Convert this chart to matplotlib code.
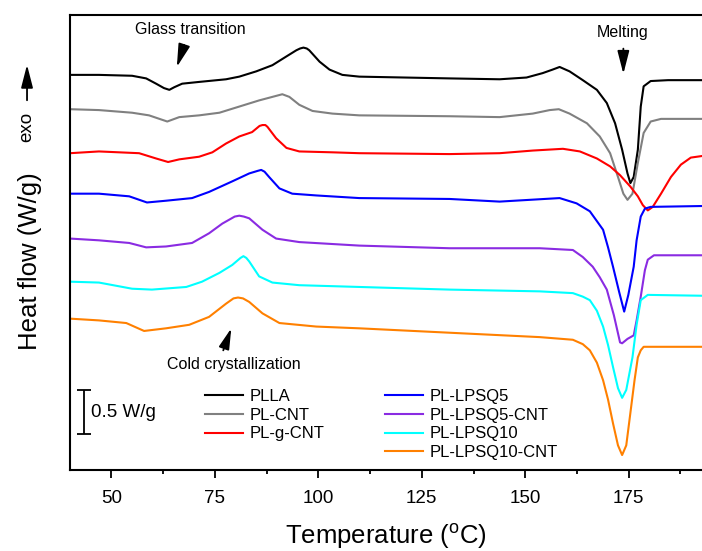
import matplotlib.pyplot as plt
from matplotlib.lines import Line2D
from matplotlib.ticker import MultipleLocator

plt.rcParams['font.family'] = ['Liberation Sans', 'DejaVu Sans']
plt.rcParams['mathtext.fontset'] = 'custom'
plt.rcParams['mathtext.rm'] = 'Liberation Sans'

# %%
# DSC traces: temperature (C) and shifted heat flow (W/g)
labels = ['PLLA', 'PL-CNT', 'PL-g-CNT', 'PL-LPSQ5', 'PL-LPSQ5-CNT', 'PL-LPSQ10', 'PL-LPSQ10-CNT']
colors = ['#000000', '#808080', '#ff0000', '#0000ff', '#8a2be2', '#00ffff', '#ff8000']

t_plla = [40, 47.0, 55.0, 58.4, 60.8, 62.7, 64.0, 65.2, 67.1, 71.2, 77.7, 80.9, 85.0, 88.9, 92.3,
          94.7, 95.6, 96.4, 97.2, 97.8, 100.3, 102.7, 105.8, 109.9, 131.7, 143.8, 150.3, 154.2,
          156.6, 158.3, 160.7, 163.9, 167.3, 169.7, 171.7, 173.4, 174.7, 175.4, 176.2, 177.2,
          177.9, 178.6, 180.3, 184.5, 193]
hf_plla = [4.49, 4.49, 4.48, 4.45, 4.39, 4.34, 4.32, 4.35, 4.39, 4.41, 4.44, 4.47, 4.53, 4.60, 4.70,
           4.77, 4.79, 4.80, 4.79, 4.77, 4.64, 4.55, 4.49, 4.47, 4.45, 4.44, 4.46, 4.51,
           4.55, 4.58, 4.53, 4.43, 4.32, 4.17, 3.94, 3.64, 3.37, 3.26, 3.33, 3.64,
           4.13, 4.36, 4.42, 4.43, 4.43]

t_cnt = [40, 47.0, 55.0, 59.1, 63.5, 66.4, 71.2, 76.1, 80.9, 85.7, 88.9, 91.3, 93.0, 95.4, 98.6,
         103.4, 109.9, 131.7, 143.8, 151.8, 155.9, 158.1, 160.7, 164.9, 168.0, 170.5, 172.4, 173.7,
         174.7, 175.9, 177.2, 178.6, 180.3, 182.8, 193]
hf_cnt = [4.10, 4.09, 4.06, 4.03, 3.96, 4.01, 4.03, 4.06, 4.13, 4.20, 4.24, 4.27, 4.24, 4.15, 4.08,
          4.05, 4.03, 4.02, 4.01, 4.05, 4.09, 4.10, 4.05, 3.94, 3.79, 3.60, 3.33, 3.14,
          3.07, 3.14, 3.49, 3.83, 3.96, 3.99, 3.99]

t_gcnt = [40, 47.0, 56.7, 60.8, 63.7, 66.4, 71.2, 74.4, 77.7, 80.9, 84.0, 85.8, 86.5, 87.2, 87.7,
          89.8, 92.3, 95.4, 103.4, 109.9, 131.7, 143.8, 151.8, 159.1, 163.2, 167.3, 170.5, 172.9,
          175.4, 177.2, 178.4, 179.6, 180.8, 182.8, 185.2, 187.6, 190.0, 193]
hf_gcnt = [3.60, 3.62, 3.60, 3.54, 3.50, 3.53, 3.56, 3.61, 3.71, 3.79, 3.84, 3.91, 3.92, 3.92, 3.90,
           3.77, 3.66, 3.62, 3.61, 3.60, 3.59, 3.60, 3.63, 3.65, 3.62, 3.54, 3.45, 3.35,
           3.22, 3.11, 3.01, 2.95, 2.99, 3.14, 3.33, 3.47, 3.55, 3.57]

t_q5 = [40, 47.0, 54.3, 58.6, 63.2, 69.5, 73.6, 79.2, 83.3, 85.4, 86.2, 87.0, 88.1, 90.6, 93.7,
        99.5, 109.9, 131.7, 143.8, 158.3, 162.4, 165.6, 168.8, 170.0, 171.2, 172.7, 173.9, 174.9,
        176.2, 176.9, 177.9, 178.9, 180.3, 193]
hf_q5 = [3.14, 3.14, 3.11, 3.04, 3.06, 3.09, 3.16, 3.28, 3.37, 3.40, 3.41, 3.39, 3.33, 3.20, 3.14,
         3.12, 3.09, 3.08, 3.05, 3.09, 3.03, 2.94, 2.73, 2.53, 2.31, 2.02, 1.80, 1.99,
         2.31, 2.61, 2.88, 2.97, 2.99, 3.00]

t_q5cnt = [40, 47.0, 54.3, 58.4, 63.2, 69.5, 73.6, 76.8, 79.8, 80.9, 82.0, 83.3, 86.5, 89.8, 95.4,
           109.9, 131.7, 153.5, 161.5, 163.9, 166.3, 168.0, 169.7, 171.4, 172.9, 173.4, 174.7, 176.2,
           176.9, 177.9, 178.9, 179.6, 181.1, 193]
hf_q5cnt = [2.63, 2.61, 2.58, 2.53, 2.54, 2.58, 2.69, 2.80, 2.88, 2.89, 2.88, 2.86, 2.73, 2.63, 2.59,
            2.55, 2.52, 2.52, 2.50, 2.42, 2.31, 2.19, 2.05, 1.76, 1.45, 1.44, 1.49, 1.53,
            1.70, 1.97, 2.27, 2.39, 2.44, 2.44]

t_q10 = [40, 47.0, 55.0, 59.8, 68.1, 71.9, 76.1, 79.2, 81.2, 81.9, 82.6, 83.3, 85.7, 88.9, 95.4,
         109.9, 131.7, 153.5, 161.5, 163.9, 165.6, 167.3, 168.8, 170.0, 171.2, 172.4, 173.4, 174.4,
         175.9, 176.9, 177.9, 179.6, 193]
hf_q10 = [2.14, 2.13, 2.06, 2.05, 2.08, 2.14, 2.24, 2.33, 2.41, 2.43, 2.41, 2.37, 2.20, 2.13, 2.10,
          2.08, 2.05, 2.03, 2.01, 1.97, 1.93, 1.81, 1.63, 1.42, 1.17, 0.93, 0.82, 0.91,
          1.28, 1.65, 1.93, 1.99, 1.98]

t_q10cnt = [40, 47.0, 53.6, 57.9, 63.2, 68.8, 73.6, 77.7, 79.5, 80.6, 81.8, 83.3, 86.5, 90.6, 99.5,
            109.9, 131.7, 153.5, 161.5, 163.9, 165.6, 167.3, 168.8, 170.0, 171.2, 172.4, 173.4, 174.4,
            175.4, 176.4, 177.2, 177.9, 178.6, 193]
hf_q10cnt = [1.72, 1.70, 1.67, 1.58, 1.61, 1.65, 1.74, 1.89, 1.95, 1.96, 1.95, 1.91, 1.78, 1.67, 1.63,
             1.61, 1.56, 1.51, 1.48, 1.43, 1.36, 1.22, 1.02, 0.80, 0.53, 0.28, 0.17, 0.28,
             0.65, 1.02, 1.28, 1.36, 1.40, 1.40]

temps = [t_plla, t_cnt, t_gcnt, t_q5, t_q5cnt, t_q10, t_q10cnt]
flows = [hf_plla, hf_cnt, hf_gcnt, hf_q5, hf_q5cnt, hf_q10, hf_q10cnt]

# %%
fig = plt.figure(figsize=(7.02, 5.51), dpi=100)
ax = fig.add_axes([70 / 702, 81 / 551, 1 - 70 / 702, 455 / 551])

lines = []
for t, hf, c, lab in zip(temps, flows, colors, labels):
    ln, = ax.plot(t, hf, color=c, lw=1.5, label=lab, solid_joinstyle='round')
    lines.append(ln)

ax.set_xlim(40, 192.7)
ax.set_ylim(0, 455 / 88)

for s in ['left', 'top', 'bottom']:
    ax.spines[s].set_linewidth(1.5)
ax.spines['right'].set_visible(False)
ax.set_yticks([])
ax.xaxis.set_major_locator(MultipleLocator(25))
ax.xaxis.set_minor_locator(MultipleLocator(12.5))
ax.tick_params(axis='x', which='major', direction='out', length=6, width=1.3, labelsize=13.5, pad=8.5)
ax.tick_params(axis='x', which='minor', direction='out', length=3, width=1.3)

ax.set_xlabel('Temperature ($^{\\mathrm{o}}$C)', fontsize=18.5, labelpad=10)
ax.set_ylabel('Heat flow (W/g)', fontsize=18.5)
ax.yaxis.set_label_coords(-0.044, 0.46)

# exo arrow
big = dict(arrowstyle='-|>,head_length=0.7,head_width=0.18', color='k', lw=1.3, mutation_scale=20)
fig.text(0.0385, 0.7695, 'exo', rotation=90, ha='center', va='center', fontsize=13.5)
ax.annotate('', xy=(0.0385, 0.8875), xytext=(0.0385, 0.8130), xycoords='figure fraction',
            arrowprops=big)

# feature annotations
ax.text(69.0, 5.0, 'Glass transition', ha='center', va='center', fontsize=11.5)
ax.annotate('', xy=(65.6, 4.55), xytext=(67.8, 4.86), arrowprops=big)
ax.text(173.5, 4.97, 'Melting', ha='center', va='center', fontsize=11.5)
ax.annotate('', xy=(173.7, 4.47), xytext=(173.7, 4.82), arrowprops=big)
ax.text(79.7, 1.20, 'Cold crystallization', ha='center', va='center', fontsize=11.5)
ax.annotate('', xy=(79.2, 1.64), xytext=(76.8, 1.33),
            arrowprops=dict(arrowstyle='-|>,head_length=0.7,head_width=0.18', color='k',
                            lw=1.3, mutation_scale=18))

# 0.5 W/g scale bar
ax.errorbar([43.4], [0.66], yerr=0.25, color='k', lw=1.3, capsize=5, capthick=1.3)
ax.text(45.1, 0.65, '0.5 W/g', ha='left', va='center', fontsize=13.5)

blank = Line2D([], [], color='none')
handles = lines[:3] + [blank] + lines[3:]
names = labels[:3] + [''] + labels[3:]
ax.legend(handles, names, ncol=2, loc='upper left', bbox_to_anchor=(0.2136, 0.178),
          frameon=False, fontsize=12, handlelength=2.3, handletextpad=0.4,
          columnspacing=3.6, labelspacing=0.22, borderpad=0, borderaxespad=0)

plt.savefig('out.png', dpi=100)
